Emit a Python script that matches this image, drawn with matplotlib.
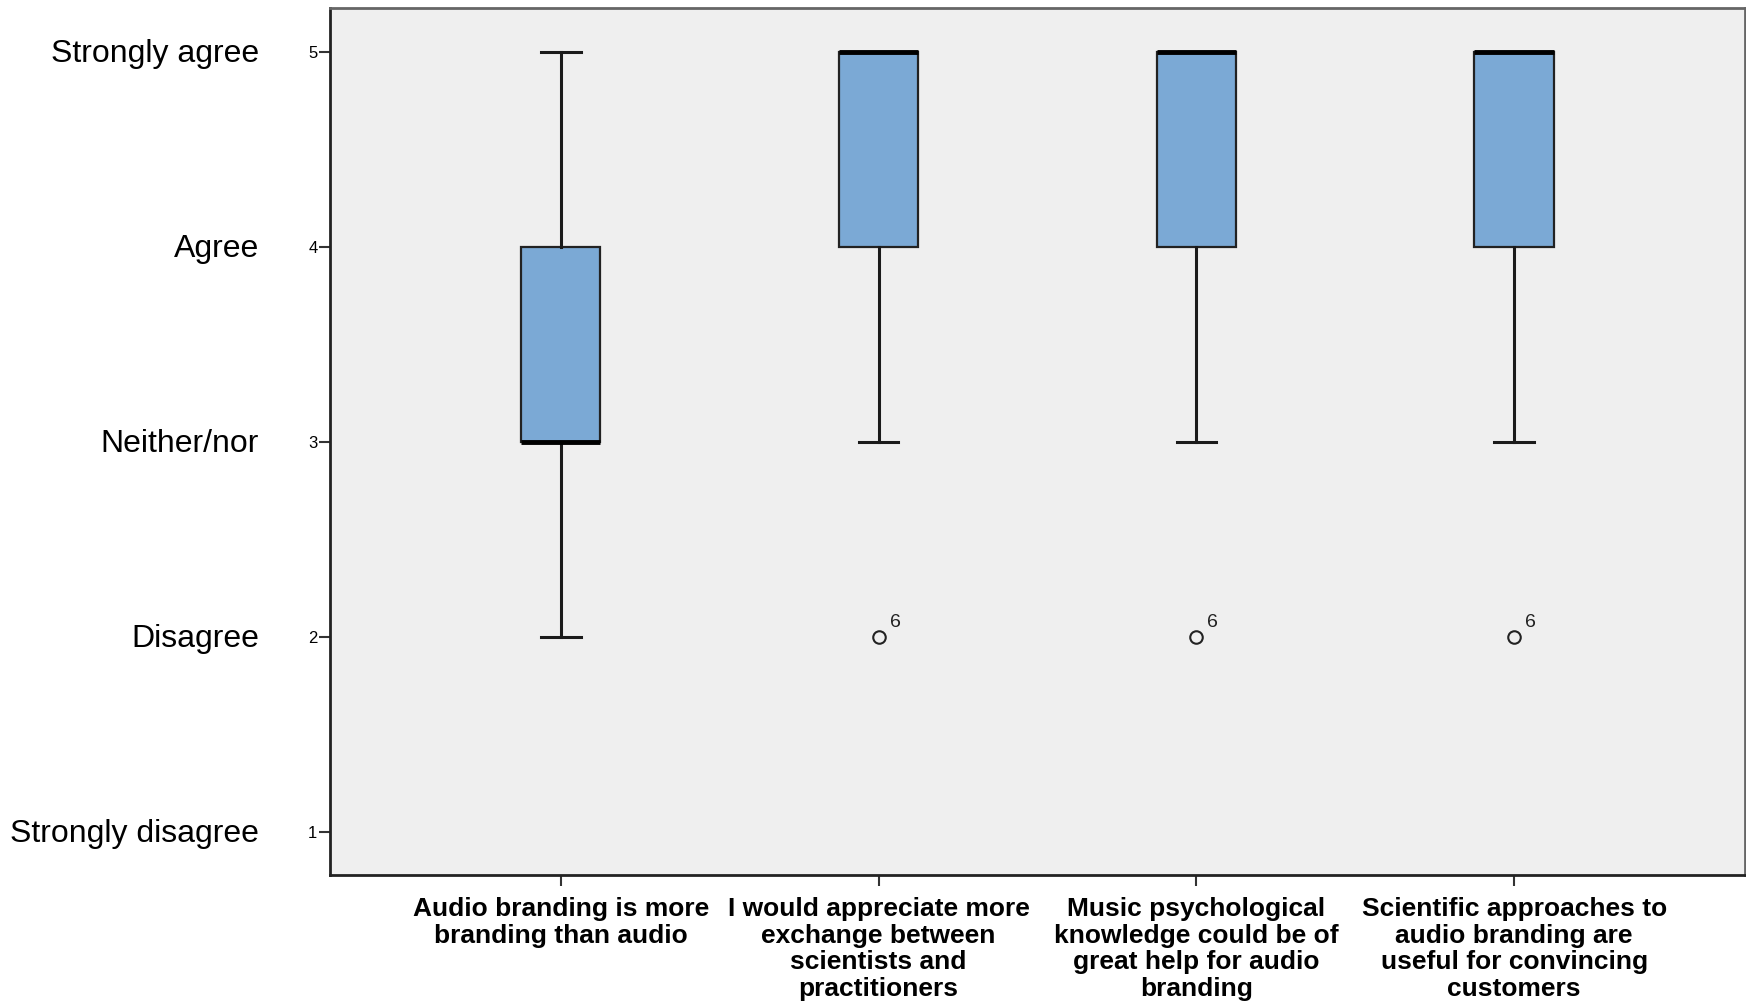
import numpy as np
import matplotlib
matplotlib.use("Agg")
import matplotlib.pyplot as plt
import matplotlib.transforms as mtransforms

# Likert statements on the x axis
items = [
    "Audio branding is more\nbranding than audio",
    "I would appreciate more\nexchange between\nscientists and\npractitioners",
    "Music psychological\nknowledge could be of\ngreat help for audio\nbranding",
    "Scientific approaches to\naudio branding are\nuseful for convincing\ncustomers",
]

# five-number summaries per item
whisker_lo = [2, 3, 3, 3]
q1 = [3, 4, 4, 4]
medians = [3, 5, 5, 5]
q3 = [4, 5, 5, 5]
whisker_hi = [5, 5, 5, 5]

# outliers: (item index, value, case id)
outliers = [(1, 2, "6"), (2, 2, "6"), (3, 2, "6")]

scale_vals = [1, 2, 3, 4, 5]
scale_names = ["Strongly disagree", "Disagree", "Neither/nor", "Agree", "Strongly agree"]

narrow = ["Liberation Sans Narrow", "Liberation Sans", "DejaVu Sans"]

fig = plt.figure(figsize=(17.46, 10.08), dpi=100)
ax = fig.add_axes([0.189, 0.132, 0.8104, 0.860])
ax.set_facecolor("#efefef")

stats = []
for i in range(len(items)):
    stats.append(dict(med=medians[i], q1=q1[i], q3=q3[i],
                      whislo=whisker_lo[i], whishi=whisker_hi[i], fliers=[]))

pos = np.arange(1, len(items) + 1)
ax.bxp(stats, positions=pos, widths=0.25, patch_artist=True, showfliers=False,
       boxprops=dict(facecolor="#7ba9d5", edgecolor="#222222", linewidth=1.6),
       whiskerprops=dict(color="#1a1a1a", linewidth=2.2),
       capprops=dict(color="#1a1a1a", linewidth=2.2),
       capwidths=0.125,
       medianprops=dict(color="black", linewidth=3.5, solid_capstyle="butt"))

for idx, val, case in outliers:
    ax.plot(pos[idx], val, marker="o", markersize=9, markerfacecolor="none",
            markeredgecolor="#222222", markeredgewidth=1.5, linestyle="none")
    ax.annotate(case, (pos[idx], val), xytext=(8, 7), textcoords="offset points",
                fontsize=14, family=narrow, color="#222222")

ax.set_xlim(0.274, 4.726)
ax.set_ylim(0.78, 5.226)

ax.set_yticks(scale_vals)
ax.set_yticklabels([str(v) for v in scale_vals], fontsize=12, family=narrow)
ax.set_xticks(pos)
ax.set_xticklabels(items, fontsize=19, fontweight="bold", family=narrow,
                   linespacing=1.13)
ax.tick_params(axis="y", length=8, width=1.5, color="#333333", pad=1)
ax.tick_params(axis="x", length=8, width=1.5, color="#333333", pad=8)

# verbal scale labels to the left of the numeric ticks
trans = mtransforms.blended_transform_factory(fig.transFigure, ax.transData)
for v, name in zip(scale_vals, scale_names):
    ax.text(259 / 1746, v - 0.01, name, transform=trans, ha="right", va="center",
            fontsize=23, family=["Liberation Sans", "DejaVu Sans"], color="black")

for side in ["left", "bottom"]:
    ax.spines[side].set_color("#222222")
    ax.spines[side].set_linewidth(2)
for side in ["top", "right"]:
    ax.spines[side].set_color("#666666")
    ax.spines[side].set_linewidth(2)

fig.savefig("out.png", dpi=100)
